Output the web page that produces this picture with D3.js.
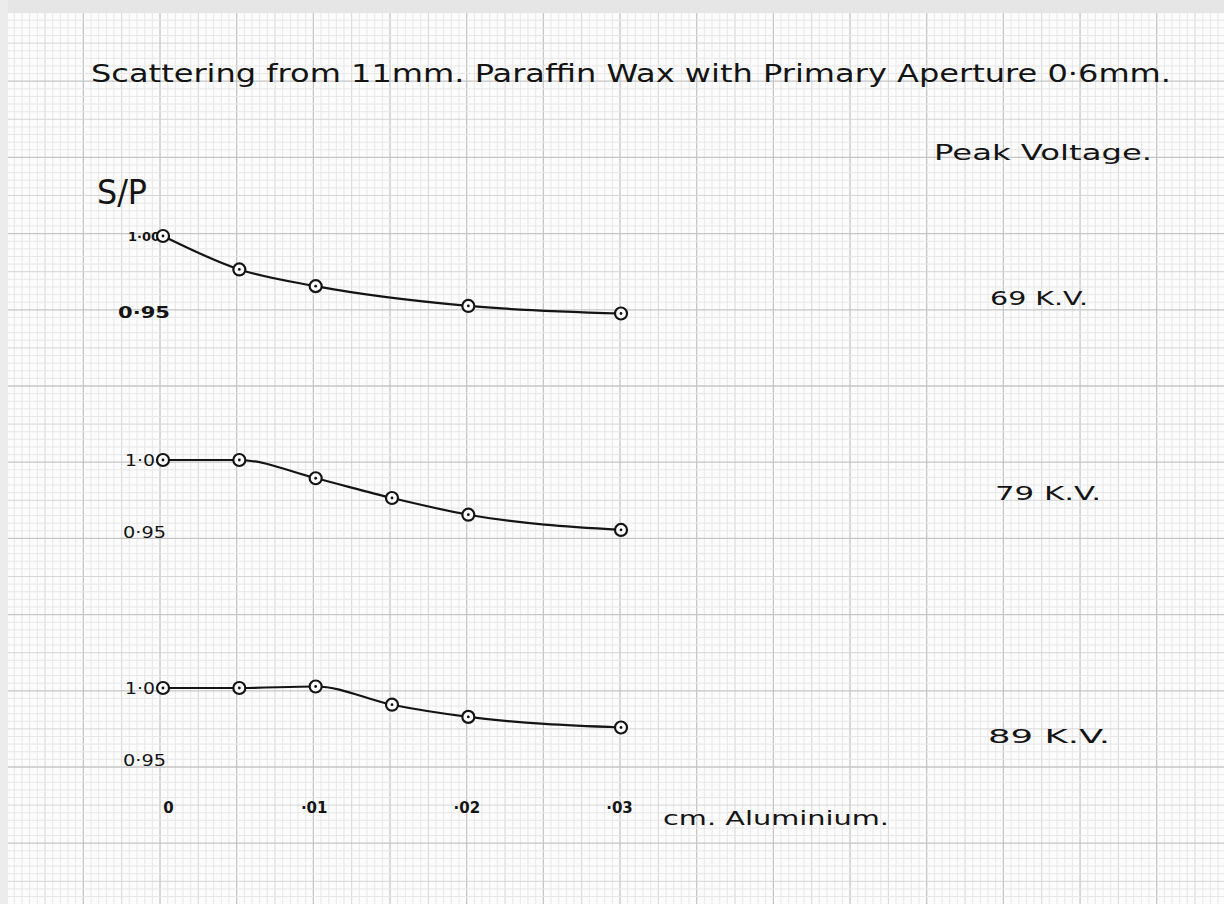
<!DOCTYPE html>
<html>
<head>
<meta charset="utf-8">
<script src="https://cdn.jsdelivr.net/npm/d3@7"></script>
<style>
  html, body { margin: 0; padding: 0; background: #ffffff; }
  svg { display: block; }
  text { font-family: "DejaVu Sans", "Liberation Sans", sans-serif; fill: #141414; }
</style>
</head>
<body>
<svg id="chart" width="1224" height="904"></svg>
<script>
// ---------------- DATA ----------------
const titleText = "Scattering from 11mm. Paraffin Wax with Primary Aperture 0·6mm.";
const legendTitle = "Peak Voltage.";
const yAxisTitle = "S/P";
const xAxisTitle = "cm. Aluminium.";
const xTickValues = [0, 0.01, 0.02, 0.03];
const xTickLabels = ["0", "·01", "·02", "·03"];
const voltageLabels = ["69 K.V.", "79 K.V.", "89 K.V."];
const yTickLabelsTop = ["1·00", "0·95"];
const yTickLabelsOther = ["1·0", "0·95"];

// thickness of aluminium (cm)
const x69 = [0, 0.005, 0.01, 0.02, 0.03];
const x79 = [0, 0.005, 0.01, 0.015, 0.02, 0.03];
const x89 = [0, 0.005, 0.01, 0.015, 0.02, 0.03];
// S/P ratio
const sp69 = [1.000, 0.978, 0.967, 0.954, 0.949];
const sp79 = [1.000, 1.000, 0.988, 0.975, 0.964, 0.954];
const sp89 = [1.000, 1.000, 1.001, 0.989, 0.981, 0.974];

// ---------------- LAYOUT ----------------
const W = 1224, H = 904;
const svg = d3.select("#chart");
const ink = "#141414";

// paper background
svg.append("rect").attr("x", 0).attr("y", 0).attr("width", W).attr("height", H).attr("fill", "#fcfcfc");

// graph-paper grid
const grid = svg.append("g");
const stepX = 76.67 / 10, stepY = 76.2 / 10;
const x0g = 6.67, y0g = 5;
d3.range(0, 170).forEach(i => {
  const x = x0g + i * stepX;
  if (x > W) return;
  const major = i % 10 === 0, mid = i % 5 === 0;
  grid.append("line").attr("x1", x).attr("x2", x).attr("y1", 0).attr("y2", H)
    .attr("stroke", major ? "#c6c6c6" : mid ? "#d6d6d6" : "#e7e7e7")
    .attr("stroke-width", major ? 1.3 : 1);
});
d3.range(0, 130).forEach(j => {
  const y = y0g + j * stepY;
  if (y > H) return;
  const major = j % 10 === 0, mid = j % 5 === 0;
  grid.append("line").attr("x1", 0).attr("x2", W).attr("y1", y).attr("y2", y)
    .attr("stroke", major ? "#c6c6c6" : mid ? "#d6d6d6" : "#e7e7e7")
    .attr("stroke-width", major ? 1.3 : 1);
});

// scanned page margins
svg.append("rect").attr("x", 0).attr("y", 0).attr("width", W).attr("height", 13).attr("fill", "#e6e6e6");
svg.append("rect").attr("x", 0).attr("y", 0).attr("width", 8).attr("height", H).attr("fill", "#ececec");

// title
svg.append("text").attr("x", 91).attr("y", 82)
  .attr("font-size", 25).attr("textLength", 1080).attr("lengthAdjust", "spacingAndGlyphs")
  .text(titleText);
svg.append("text").attr("x", 934).attr("y", 160)
  .attr("font-size", 21).attr("textLength", 218).attr("lengthAdjust", "spacingAndGlyphs")
  .text(legendTitle);

// y axis title
svg.append("text").attr("x", 97).attr("y", 204)
  .attr("font-size", 33).attr("textLength", 50).attr("lengthAdjust", "spacingAndGlyphs")
  .text(yAxisTitle);

// x scale
const x = d3.scaleLinear().domain([0, 0.03]).range([163, 621]);

// panels: y position of the 1.00 level in each panel
const panelTop = [236, 460, 688];
const pxPer005 = 76;
const series = [
  { xs: x69, ys: sp69, label: voltageLabels[0], ticks: yTickLabelsTop, labelDy: 61 },
  { xs: x79, ys: sp79, label: voltageLabels[1], ticks: yTickLabelsOther, labelDy: 32 },
  { xs: x89, ys: sp89, label: voltageLabels[2], ticks: yTickLabelsOther, labelDy: 47 }
];

series.forEach((s, k) => {
  const y = d3.scaleLinear().domain([0.95, 1.0]).range([panelTop[k] + pxPer005, panelTop[k]]);
  const g = svg.append("g");
  const pts = s.xs.map((v, i) => [v, s.ys[i]]);

  const line = d3.line().x(d => x(d[0])).y(d => y(d[1])).curve(d3.curveMonotoneX);
  g.append("path").datum(pts).attr("d", line)
    .attr("fill", "none").attr("stroke", ink).attr("stroke-width", 2.2).attr("stroke-linejoin", "round");

  // y tick labels
  if (k === 0) {
    g.append("text").attr("x", x(0) - 3).attr("y", y(1.0) + 5).attr("text-anchor", "end")
      .attr("font-size", 13).attr("font-weight", "bold").text(s.ticks[0]);
    g.append("text").attr("x", 118).attr("y", y(0.95) + 6)
      .attr("font-size", 15).attr("font-weight", "bold").attr("textLength", 52).attr("lengthAdjust", "spacingAndGlyphs").text(s.ticks[1]);
  } else {
    g.append("text").attr("x", x(0) - 8).attr("y", y(1.0) + 6).attr("text-anchor", "end")
      .attr("font-size", 16).attr("textLength", 30).attr("lengthAdjust", "spacingAndGlyphs").text(s.ticks[0]);
    g.append("text").attr("x", 123).attr("y", y(0.95) + 2)
      .attr("font-size", 15).attr("textLength", 43).attr("lengthAdjust", "spacingAndGlyphs").text(s.ticks[1]);
  }

  // markers
  const m = g.selectAll("g.pt").data(pts).join("g").attr("class", "pt")
    .attr("transform", d => `translate(${x(d[0])},${y(d[1])})`);
  m.append("circle").attr("r", 6).attr("fill", "#fcfcfc").attr("stroke", ink).attr("stroke-width", 2.2);
  m.append("circle").attr("r", 1.4).attr("fill", ink);

  // voltage label
  g.append("text").attr("x", k === 0 ? 990 : k === 1 ? 995 : 988).attr("y", y(1.0) + s.labelDy + 8)
    .attr("font-size", 20)
    .attr("textLength", k === 0 ? 98 : k === 1 ? 106 : 122).attr("lengthAdjust", "spacingAndGlyphs")
    .text(s.label);
});

// x axis tick labels (no axis line, as in the drawing)
const xAxis = d3.axisBottom(x).tickValues(xTickValues)
  .tickFormat((d, i) => xTickLabels[i]).tickSize(0).tickPadding(0);
const xg = svg.append("g").attr("transform", "translate(0,802)").call(xAxis);
xg.select(".domain").remove();
xg.selectAll("text").attr("font-size", 15).attr("font-weight", "bold").attr("fill", ink)
  .style("font-family", "DejaVu Sans, sans-serif")
  .attr("dx", (d, i) => i === 0 ? 5 : -2);

svg.append("text").attr("x", 663).attr("y", 825)
  .attr("font-size", 19).attr("textLength", 226).attr("lengthAdjust", "spacingAndGlyphs")
  .text(xAxisTitle);
</script>
</body>
</html>
